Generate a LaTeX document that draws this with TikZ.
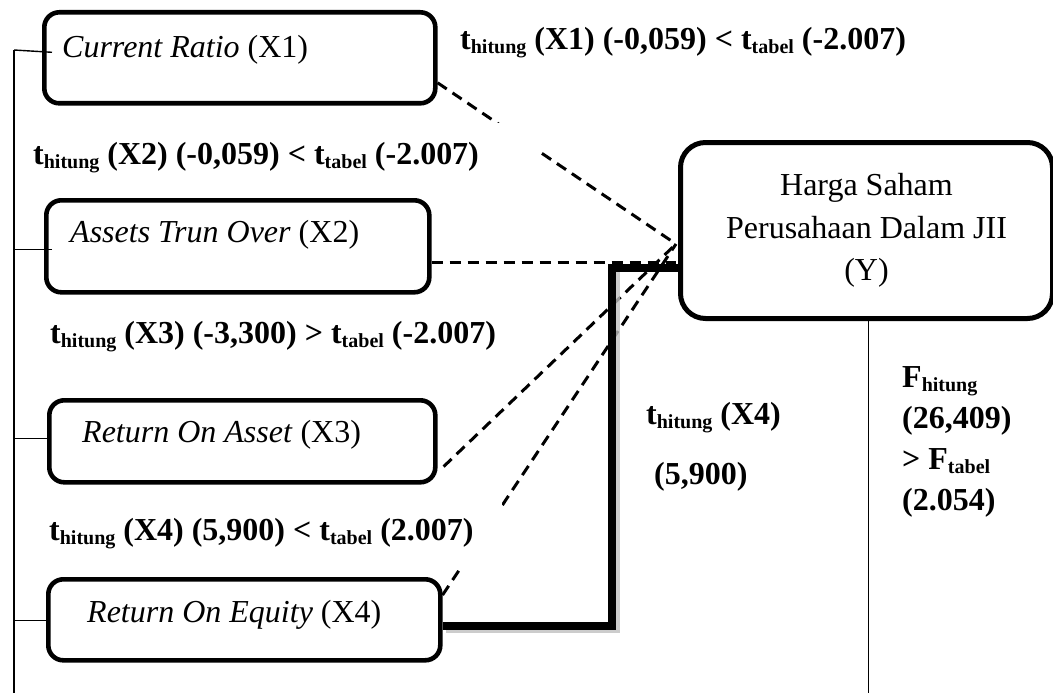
\documentclass[tikz,border=0pt]{standalone}
\usepackage{fontspec}
\setmainfont{Liberation Serif}
\usetikzlibrary{calc}
\newcommand{\sbx}[1]{\raisebox{-4pt}{\fontsize{20}{20}\selectfont #1}}
\begin{document}
\begin{tikzpicture}[x=1pt,y=-1pt,
  xbox/.style={draw, line width=4.6pt, rounded corners=15pt, inner sep=0pt, anchor=north west},
  ybox/.style={draw, fill=white, line width=5pt, rounded corners=25pt, inner sep=0pt, anchor=north west, align=center, font=\fontsize{32}{42.5}\selectfont},
  btext/.style={inner sep=0pt, anchor=west, font=\fontsize{32}{38}\selectfont},
  lab/.style={inner sep=0pt, font=\fontsize{32}{38}\selectfont\bfseries},
  dashline/.style={line width=3pt, dash pattern=on 11pt off 7pt},
  spine/.style={line width=1.4pt},
  heavy/.style={line width=7.5pt, line join=miter},
  heavyshadow/.style={line width=8pt, draw=black!25, opacity=0.8},
]
\useasboundingbox (0,0) rectangle (1053,693);
% spine
\coordinate (sTop) at (14,50);
\coordinate (sBot) at (14,693);
\draw[spine] (sTop) -- (sBot);
% boxes
\node[xbox, minimum width=391pt, minimum height=91pt] (X1) at (42,10) {};
\node[xbox, minimum width=383pt, minimum height=92pt] (X2) at (44,198) {};
\node[xbox, minimum width=386pt, minimum height=82pt] (X3) at (47,398) {};
\node[xbox, minimum width=392pt, minimum height=81pt] (X4) at (46,577) {};
\node[btext] (X1t) at (62,50) {\textit{Current Ratio} (X1)};
\node[btext] (X2t) at (70,235) {\textit{Assets Trun Over} (X2)};
\node[btext] (X3t) at (82,435) {\textit{Return On Asset} (X3)};
\node[btext] (X4t) at (87,615) {\textit{Return On Equity} (X4)};
% ticks
\draw[spine] ($(X1.west)+(10,-5.5)$) -- (sTop);
\draw[spine] ($(X2.west)+(8,3)$) -- ++(-38,0);
\draw[spine] ($(X3.west)+(0,-3)$) -- ++(-34,0);
\draw[spine] ($(X4.west)+(0,0.5)$) -- ++(-33,0);
% connectors
\coordinate (C) at (676,244);
\coordinate (x1s) at ($(X1.east)+(0,25)$);
\coordinate (x2s) at ($(X2.east)+(0,16)$);
\coordinate (x3s) at ($(X3.south east)+(6,-18)$);
\coordinate (x4s) at ($(X4.north east)+(0,18)$);
\draw[dashline] (x1s) -- (C);
\draw[dashline] (x2s) -- (x2s -| C);
\draw[dashline] (x3s) -- (C);
\draw[dashline] (x4s) -- (C);
% labels
\node[lab, anchor=west] (L1) at (460,43) {t\sbx{hitung} (X1) (-0,059) < t\sbx{tabel} (-2.007)};
\node[lab, anchor=north west, fill=white, minimum height=68pt] (L2) at (33,123) {\makebox[505pt][l]{t\sbx{hitung} (X2) (-0,059) < t\sbx{tabel} (-2.007)}};
\node[lab, anchor=west] (L3) at (50,337) {t\sbx{hitung} (X3) (-3,300) > t\sbx{tabel} (-2.007)};
\node[lab, anchor=north west, fill=white, minimum height=66pt] (L4) at (49,500) {\makebox[453pt][l]{t\sbx{hitung} (X4) (5,900) < t\sbx{tabel} (2.007)}};
% heavy line
\coordinate (t0) at ($(X4.east)+(0,6)$);
\coordinate (bend) at (612,268);
\coordinate (t3) at (680,268);
\draw[heavyshadow] ($(t0)+(3,3.5)$) -| ($(bend)+(3.5,3)$);
\draw[heavy] (t0) -| (bend) -- (t3);
% Y box
\node[ybox, minimum width=372pt, minimum height=176pt] (Y) at (678,140) {Harga Saham\\Perusahaan Dalam JII\\(Y)};
\coordinate (yb) at (Y.south |- sBot);
\draw[line width=1.3pt] ($(Y.south)+(2,0)$) -- ($(yb)+(2,0)$);
% right texts
\node[lab, anchor=west, align=left, font=\fontsize{32}{60}\selectfont\bfseries] (T4) at (646,447) {t\sbx{hitung} (X4)\\\hspace*{8pt}(5,900)};
\node[lab, anchor=west, align=left, font=\fontsize{32}{41}\selectfont\bfseries] (F) at (902,441.5) {F\sbx{hitung}\\(26,409)\\> F\sbx{tabel}\\(2.054)};
\end{tikzpicture}
\end{document}
